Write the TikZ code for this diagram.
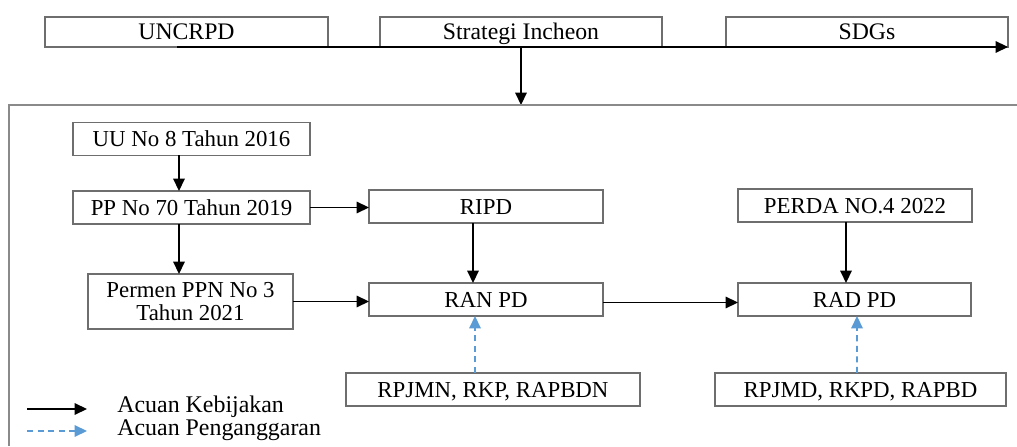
\documentclass[tikz,border=0pt]{standalone}
\usepackage{fontspec}
\setmainfont{Liberation Serif}
\usetikzlibrary{arrows.meta}

\definecolor{boxgray}{HTML}{6E6E6E}
\definecolor{framegray}{HTML}{8A8A8A}
\definecolor{budgetblue}{HTML}{5B9BD5}

\def\px{0.02cm}

\begin{document}
\begin{tikzpicture}[x=0.02cm,y=0.02cm,
  docbase/.style ={draw=boxgray,line width=1.1pt,inner sep=0pt,outer sep=0pt,
                  minimum height=33*\px,align=center,font=\fontsize{13}{13.6}\selectfont},
  docbox/.style ={docbase,text height=8.6pt,text depth=0pt},
  topbox/.style ={docbase,minimum height=30*\px,text height=8.9pt,text depth=0pt,
                  font=\fontsize{13.5}{15}\selectfont},
  policy/.style ={-{Triangle[length=7pt,width=6.5pt]},line width=0.9pt},
  budget/.style ={-{Triangle[length=7pt,width=6.5pt]},budgetblue,line width=0.9pt,
                  dash pattern=on 3.5pt off 2.5pt},
  legendtext/.style={anchor=west,inner sep=0pt,text height=9pt,text depth=0pt,
                  font=\fontsize{13.6}{15}\selectfont}
]
  \useasboundingbox (0,0) rectangle (1017,446);

  % ----- international references -----
  \node[topbox,minimum width=283*\px] (uncrpd)  at (186.5,414) {UNCRPD};
  \node[topbox,minimum width=282*\px] (incheon) at (521,414)   {Strategi Incheon};
  \node[topbox,minimum width=282*\px] (sdgs)    at (867,414)   {SDGs};

  \coordinate (flowstart) at (177,399);
  \coordinate (frametop)  at (521,341);
  \draw[policy] (flowstart) -- (sdgs.south east);
  \draw[policy] (incheon.south) -- (frametop);

  % national frame (cut off at right and bottom)
  \draw[framegray,line width=1.1pt] (1017,341) -- (9,341) -- (9,0);

  % ----- national regulations -----
  \node[docbox,minimum width=237*\px] (uu)     at (191.5,307)   {UU No 8 Tahun 2016};
  \node[docbox,minimum width=237*\px] (pp)     at (191.5,238.5) {PP No 70 Tahun 2019};
  \node[docbase,minimum width=205*\px,minimum height=55*\px]
                                      (permen) at (190.5,144.5) {Permen PPN No 3\\Tahun 2021};

  % ----- action plans -----
  \node[docbox,minimum width=234*\px] (ripd)   at (486,239.5)   {RIPD};
  \node[docbox,minimum width=234*\px] (perda)  at (855,240.5)   {PERDA NO.4 2022};
  \node[docbox,minimum width=234*\px] (ranpd)  at (486,146.5)   {RAN PD};
  \node[docbox,minimum width=233*\px] (radpd)  at (854.5,146.5) {RAD PD};

  % ----- budget documents -----
  \node[docbox,minimum width=294*\px] (rpjmn)  at (493,56.5)    {RPJMN, RKP, RAPBDN};
  \node[docbox,minimum width=291*\px] (rpjmd)  at (860.5,56.5)  {RPJMD, RKPD, RAPBD};

  % ----- policy references -----
  \draw[policy] ([xshift=-12.5*\px]uu.south) -- ([xshift=-12.5*\px]pp.north);
  \draw[policy] ([xshift=-12.5*\px]pp.south) -- ([xshift=-11.5*\px]permen.north);
  \draw[policy] (pp.east) -- (pp.east -| ripd.west);
  \draw[policy] (permen.east) -- (permen.east -| ranpd.west);
  \draw[policy] ([xshift=-13*\px]ripd.south) -- ([xshift=-13*\px]ranpd.north);
  \draw[policy] ([xshift=-9*\px]perda.south) -- ([xshift=-8.5*\px]radpd.north);
  \draw[policy] ([yshift=-3*\px]ranpd.east) -- ([yshift=-3*\px]radpd.west);

  % ----- budget references -----
  \draw[budget] ([xshift=-18*\px]rpjmn.north) -- ([xshift=-11*\px]ranpd.south);
  \draw[budget] ([xshift=-3.5*\px]rpjmd.north) -- ([xshift=2.5*\px]radpd.south);

  % ----- legend -----
  \node[legendtext] (kebijakan)    at (117,41.5) {Acuan Kebijakan};
  \node[legendtext] (penganggaran) at (117,18.5) {Acuan Penganggaran};
  \coordinate (keyA) at (27,37);
  \coordinate (keyB) at (27,15);
  \draw[policy] (keyA) -- ([xshift=-30*\px]kebijakan.west |- keyA);
  \draw[budget] (keyB) -- ([xshift=-30*\px]penganggaran.west |- keyB);
\end{tikzpicture}
\end{document}
